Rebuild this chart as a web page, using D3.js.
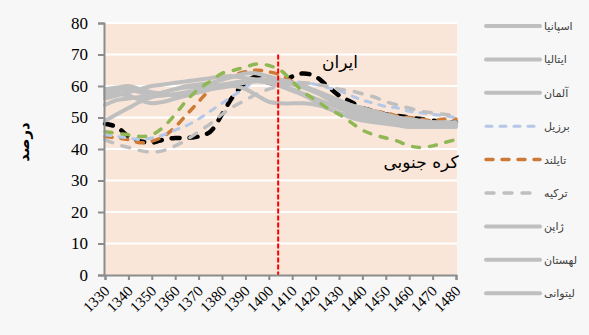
<!DOCTYPE html>
<html><head><meta charset="utf-8">
<script src="https://cdn.jsdelivr.net/npm/d3@7"></script>
<style>body{margin:0;background:#f7f7f7;}svg{display:block;}</style>
</head><body>
<svg id="c" width="589" height="335"></svg>
<script>
const years = [1330,1335,1340,1345,1350,1355,1360,1365,1370,1375,1380,1385,1390,1395,1400,1405,1410,1415,1420,1425,1430,1435,1440,1445,1450,1455,1460,1465,1470,1475,1480];
const xTicks = [1330,1340,1350,1360,1370,1380,1390,1400,1410,1420,1430,1440,1450,1460,1470,1480];
const yTicks = [0,10,20,30,40,50,60,70,80];

const iran     = [48,47,44,42.5,42,43,43.5,43.5,44,45.5,51,57,61,63,61,61,63,64,63,60,57,55,53,52,51,50.5,50,49.5,49,48.5,48.5];
const korea    = [45.5,45,44.5,44,44.5,47,51,55.5,59,61.5,64,65,66,67,66.5,65,61.5,58,55.5,53,51,48.5,46,44.5,43.5,42.5,41,40.5,41,42,43];
const thailand = [44,43.5,43,42,42.5,44,47,51,55,59,62,63.5,64.5,65,64.5,63.5,61.5,60,58.5,56.5,55,54,53,52,51.5,50.5,50,49.5,49,49.5,49.5];
const brazil   = [44.5,44,43.5,43,43.5,44.5,46,47.5,49.5,52,54.5,57,59.5,62,62.5,62,61.5,61,60.5,59.5,58.5,57,55.5,54.5,53.5,53,52,51.5,51,50.5,50];
const turkey   = [43,41.5,40.5,39.5,39,39.5,41,43,45.5,48,51,53.5,55.5,57.5,59,60,60.5,61,60.5,60,59,58.5,57.5,56.5,55,54,53,52,51.5,51,50.5];
const spain    = [56,57,58,59,60,60.5,61,61.5,62,62.5,63,63,62.5,62,61,60,59,57.5,56,54.5,53,51.5,50.5,49.5,49,48.5,48,47.5,47.5,47.5,47.5];
const italy    = [58,58.5,59,58,57,58,59,60,60.5,61,62,63,64,64,63,62,61,59.5,58,56,54,52.5,51.5,50.5,50,49.5,49,48.5,48.5,48,48];
const germany  = [57,57.5,57,55.5,54.5,55,56,57,58,59,60,60.5,61,61.5,61,60,58.5,57,55,53,51.5,50,49,48.5,48,47.5,47,47,47,47,47];
const japan    = [49,51,53,55,56.5,57,57.5,58,58.5,59,59.5,60,59,57,55,54.5,54.5,54.5,54,53,51.5,50.5,49.5,49,48.5,48,48,47.5,47.5,47.5,47.5];
const poland   = [59,59.5,60,59,58,57.5,57,57.5,58,59,60,61,61.5,62,62,61.5,61,60,58.5,57,55.5,54,53,52,51,50,49.5,49,48.5,48.5,48.5];
const lithuania= [54,55.5,56,56.5,57,58,59,59.5,59.5,60,60.5,61,61.5,62,61.5,61,60.5,59.5,58,56.5,55,53.5,52,51,50,49.5,49,48.5,48,48,48];
const markerYear = 1404;

const legendNames = ["اسپانیا","ایتالیا","آلمان","برزیل","تایلند","ترکیه","ژاپن","لهستان","لیتوانی"];

const styles = {
  spain:{c:"#bfbfbf",w:4,d:null}, italy:{c:"#bfbfbf",w:4,d:null}, germany:{c:"#bfbfbf",w:4,d:null},
  japan:{c:"#bfbfbf",w:4,d:null}, poland:{c:"#bfbfbf",w:4,d:null}, lithuania:{c:"#bfbfbf",w:4,d:null},
  brazil:{c:"#b4c7e7",w:3,d:"6,8"}, thailand:{c:"#cc7a36",w:3.5,d:"7,9"}, turkey:{c:"#bfbfbf",w:3.5,d:"8,10"},
  iran:{c:"#000000",w:4.5,d:"8,10"}, korea:{c:"#8fb855",w:3.5,d:"7,10"}
};
const seriesMap = {spain,italy,germany,japan,poland,lithuania,brazil,thailand,turkey,iran,korea};
const drawOrder = ["iran","thailand","brazil","turkey","spain","italy","germany","japan","poland","lithuania","korea"];
const legendKeys = ["spain","italy","germany","brazil","thailand","turkey","japan","poland","lithuania"];

const svg = d3.select("#c");
const L=105, R=456, T=23, B=275;
const x = d3.scaleLinear().domain([1330,1480]).range([L,R]);
const y = d3.scaleLinear().domain([0,80]).range([B,T]);

svg.append("rect").attr("x",L).attr("y",T).attr("width",R-L+1).attr("height",B-T).attr("fill","#f9e6d8");
svg.append("g").selectAll("line").data(yTicks.filter(v=>v>0)).join("line")
  .attr("x1",L).attr("x2",R+1).attr("y1",d=>y(d)).attr("y2",d=>y(d))
  .attr("stroke","#ffffff").attr("stroke-width",2);

const line = d3.line().x((d,i)=>x(years[i])).y(d=>y(d)).curve(d3.curveCatmullRom.alpha(0.5));
const gl = svg.append("g");
drawOrder.forEach(k=>{
  const s = styles[k];
  gl.append("path").attr("d",line(seriesMap[k])).attr("fill","none")
    .attr("stroke",s.c).attr("stroke-width",s.w)
    .attr("stroke-dasharray",s.d).attr("stroke-linecap","round").attr("stroke-linejoin","round");
});

svg.append("line").attr("x1",x(markerYear)).attr("x2",x(markerYear)).attr("y1",y(70)).attr("y2",y(0))
  .attr("stroke","#ff0000").attr("stroke-width",2).attr("stroke-dasharray","5,2");

// axes
const yAxis = d3.axisLeft(y).tickValues(yTicks).tickSize(6).tickPadding(10);
const gy = svg.append("g").attr("transform",`translate(${L-1},0)`).call(yAxis);
gy.select(".domain").attr("stroke","#8c8c8c").attr("stroke-width",2);
gy.selectAll(".tick line").attr("stroke","#8c8c8c").attr("stroke-width",2);
gy.selectAll("text").attr("font-family","Liberation Serif").attr("font-size",17).attr("fill","#000");

const xAxis = d3.axisBottom(x).tickValues(xTicks).tickFormat(d3.format("d")).tickSize(5);
const gx = svg.append("g").attr("transform",`translate(0,${B})`).call(xAxis);
gx.select(".domain").attr("stroke","#8c8c8c").attr("stroke-width",2);
gx.selectAll(".tick line").attr("stroke","#8c8c8c").attr("stroke-width",2);
gx.selectAll("text").attr("font-family","Liberation Serif").attr("font-size",15).attr("fill","#000")
  .attr("text-anchor","end").attr("x",0).attr("y",0).attr("dy","0").attr("dx","0")
  .attr("transform","translate(5,17) rotate(-45)");

svg.append("text").attr("transform","translate(29,142) rotate(-90)").attr("text-anchor","middle")
  .attr("font-family","DejaVu Sans").attr("font-weight","bold").attr("font-size",15).text("درصد");

svg.append("text").attr("x",340).attr("y",68).attr("text-anchor","middle")
  .attr("font-family","DejaVu Sans").attr("font-size",17).text("ایران");
svg.append("text").attr("x",421).attr("y",168).attr("text-anchor","middle")
  .attr("font-family","DejaVu Sans").attr("font-size",17).text("کره جنوبی");

// legend
const lg = svg.append("g");
legendKeys.forEach((k,i)=>{
  const s = styles[k];
  const yy = 26 + i*33.4;
  lg.append("line").attr("x1",486).attr("x2",540).attr("y1",yy).attr("y2",yy)
    .attr("stroke",s.c).attr("stroke-width",s.w).attr("stroke-dasharray",s.d).attr("stroke-linecap","round");
  lg.append("text").attr("x",544).attr("y",yy+4).attr("text-anchor","start")
    .attr("font-family","DejaVu Sans").attr("font-size",11).attr("fill","#404040").text(legendNames[i]);
});
</script>
</body></html>
